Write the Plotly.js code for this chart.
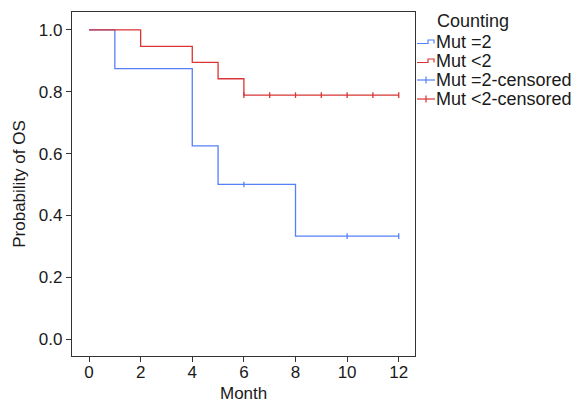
<!DOCTYPE html>
<html><head><meta charset="utf-8">
<script src="https://cdn.plot.ly/plotly-3.0.1.min.js"></script>
<style>html,body{margin:0;padding:0;background:#fff}#c{width:582px;height:403px}</style>
</head><body><div id="c"></div>
<script>
// Data
const mut2Time = [0, 1, 4, 5, 8, 12];
const mut2Surv = [1.0, 0.875, 0.625, 0.5, 0.333, 0.333];
const mutLt2Time = [0, 2, 4, 5, 6, 12];
const mutLt2Surv = [1.0, 0.947, 0.895, 0.842, 0.789, 0.789];
const mut2CensTime = [6, 10, 12];
const mut2CensSurv = [0.5, 0.333, 0.333];
const mutLt2CensTime = [6, 7, 8, 9, 10, 11, 12];
const mutLt2CensSurv = [0.789, 0.789, 0.789, 0.789, 0.789, 0.789, 0.789];
const legendTitle = "Counting";
const legendLabels = ["Mut =2", "Mut <2", "Mut =2-censored", "Mut <2-censored"];
const xTitle = "Month";
const yTitle = "Probability of OS";
const xTicks = [0, 2, 4, 6, 8, 10, 12];
const yTicks = [0.0, 0.2, 0.4, 0.6, 0.8, 1.0];

const BLUE = "#5580f7", RED = "#d93535";
const FONT = "Liberation Sans, Arial, Helvetica, sans-serif";
const W = 582, H = 403, L = 72, R = 167, T = 12, B = 47;
const pw = W - L - R, ph = H - T - B;
const px = v => (v - L) / pw;
const py = v => (H - B - v) / ph;
const XR = [-0.66, 12.63];

const traces = [
  {x: mut2Time, y: mut2Surv, mode: "lines", line: {shape: "hv", color: BLUE, width: 1.3}, name: legendLabels[0]},
  {x: mutLt2Time, y: mutLt2Surv, mode: "lines", line: {shape: "hv", color: RED, width: 1.3}, name: legendLabels[1]},
  {x: mut2CensTime, y: mut2CensSurv, mode: "markers", marker: {symbol: "line-ns", size: 4, line: {color: BLUE, width: 1.3}}, name: legendLabels[2]},
  {x: mutLt2CensTime, y: mutLt2CensSurv, mode: "markers", marker: {symbol: "line-ns", size: 4, line: {color: RED, width: 1.3}}, name: legendLabels[3]},
  // invisible trace to carry the tick-mark axis
  {x: [xTicks[0]], y: [yTicks[0]], xaxis: "x2", yaxis: "y", mode: "markers", marker: {opacity: 0}, hoverinfo: "skip", showlegend: false}
];

// custom legend
const legRows = [42, 61, 80, 99];
const colors = [BLUE, RED, BLUE, RED];
const annotations = [{xref: "paper", yref: "paper", x: px(435), y: py(21), xanchor: "left", yanchor: "middle",
  text: legendTitle, showarrow: false, font: {family: FONT, size: 18, color: "#1a1a1a"}},
  {xref: "paper", yref: "paper", x: 0.5, y: py(393), xanchor: "center", yanchor: "middle", borderpad: 0,
  text: xTitle, showarrow: false, font: {family: FONT, size: 17, color: "#1a1a1a"}}];
const shapes = [];
legendLabels.forEach((lab, i) => {
  const yy = legRows[i];
  annotations.push({xref: "paper", yref: "paper", x: px(434), y: py(yy), xanchor: "left", yanchor: "middle",
    text: lab, showarrow: false, font: {family: FONT, size: 18, color: "#1a1a1a"}});
  if (i < 2) {
    shapes.push({type: "path", xref: "paper", yref: "paper",
      path: `M ${px(417)} ${py(yy + 1.5)} L ${px(428)} ${py(yy + 1.5)} L ${px(428)} ${py(yy - 2)} L ${px(434)} ${py(yy - 2)} L ${px(434)} ${py(yy + 1.5)}`,
      line: {color: colors[i], width: 1.2}});
  } else {
    shapes.push({type: "line", xref: "paper", yref: "paper", x0: px(417), x1: px(435), y0: py(yy), y1: py(yy), line: {color: colors[i], width: 1.2}});
    shapes.push({type: "line", xref: "paper", yref: "paper", x0: px(426), x1: px(426), y0: py(yy - 3.5), y1: py(yy + 3.5), line: {color: colors[i], width: 1.2}});
  }
});

const layout = {
  width: W, height: H,
  margin: {l: L, r: R, t: T, b: B},
  paper_bgcolor: "#fff", plot_bgcolor: "#fff",
  showlegend: false,
  font: {family: FONT, size: 17, color: "#1a1a1a"},
  xaxis: {range: XR, tickvals: xTicks, ticktext: xTicks.map(String), ticks: "",
    showline: true, mirror: true, linecolor: "#333", linewidth: 1.2, showgrid: false, zeroline: false,
    tickfont: {size: 17}},
  xaxis2: {range: XR, overlaying: "x", side: "bottom", tickvals: xTicks, ticks: "outside", ticklen: 5, tickcolor: "#333",
    showticklabels: false, showline: false, showgrid: false, zeroline: false},
  yaxis: {range: [-0.055, 1.058], tickvals: yTicks, ticktext: yTicks.map(v => v.toFixed(1)), ticks: "outside", ticklen: 5, tickcolor: "#333",
    showline: true, mirror: true, linecolor: "#333", linewidth: 1.2, showgrid: false, zeroline: false,
    tickfont: {size: 17}, title: {text: yTitle, font: {size: 17}, standoff: 8}},
  annotations: annotations, shapes: shapes
};
Plotly.newPlot("c", traces, layout, {displayModeBar: false, staticPlot: true});
</script></body></html>
